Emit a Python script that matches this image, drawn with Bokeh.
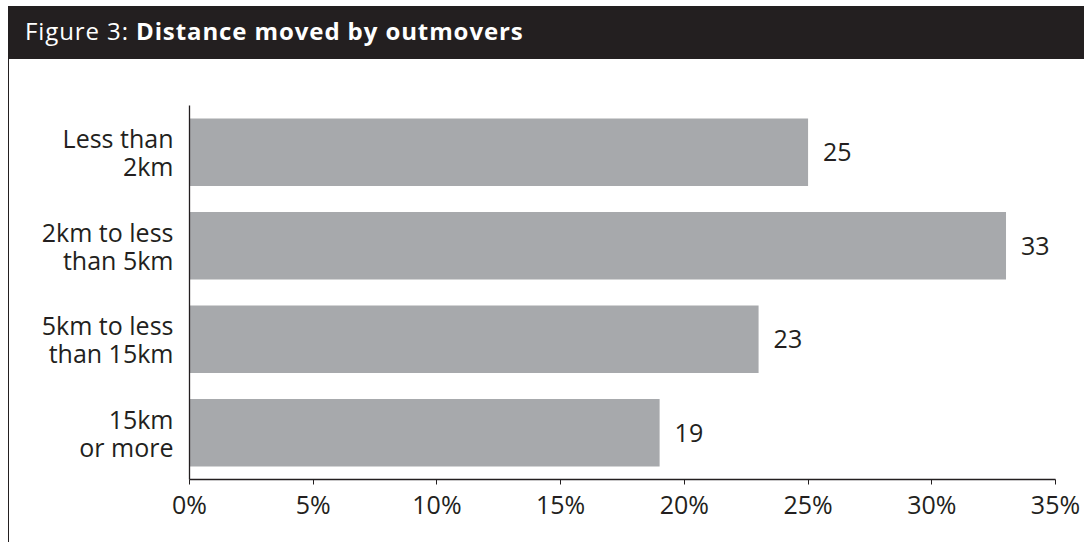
from bokeh.plotting import figure
from bokeh.models import ColumnDataSource, Div, FixedTicker, Range1d, Spacer
from bokeh.layouts import column, row
from bokeh.embed import file_html
from bokeh.resources import INLINE
from bokeh.core.properties import value

# ---- data ----
categories = ["Less than\n2km", "2km to less\nthan 5km", "5km to less\nthan 15km", "15km\nor more"]
values = [25, 33, 23, 19]
value_labels = ["25", "33", "23", "19"]
x_ticks = [0, 5, 10, 15, 20, 25, 30, 35]
x_tick_labels = ["0%", "5%", "10%", "15%", "20%", "25%", "30%", "35%"]
title_prefix = "Figure 3: "
title_main = "Distance moved by outmovers"

DARK = "#231f20"
BAR = "#a7a9ac"
FONT = "Open Sans"

src = ColumnDataSource(dict(cat=categories, val=values, lab=value_labels))

p = figure(
    width=1075, height=483,
    y_range=list(reversed(categories)),
    x_range=Range1d(0, 35),
    output_backend="svg", toolbar_location=None,
    min_border_left=180, min_border_right=29,
    min_border_top=46, min_border_bottom=63,
    background_fill_color="white", border_fill_color="white",
)
p.outline_line_color = None
p.xgrid.visible = False
p.ygrid.visible = False

p.hbar(y="cat", left=0, right="val", height=0.72, source=src,
       fill_color=BAR, line_color=None)
p.text(x="val", y="cat", text="lab", source=src, x_offset=15,
       text_baseline="middle", text_align="left",
       text_font=value(FONT), text_font_size="25px", text_color=DARK)

xa = p.xaxis[0]
xa.ticker = FixedTicker(ticks=x_ticks)
xa.major_label_overrides = {t: l for t, l in zip(x_ticks, x_tick_labels)}
xa.axis_line_color = DARK
xa.axis_line_width = 1.3
xa.major_tick_line_color = DARK
xa.major_tick_in = 0
xa.major_tick_out = 5
xa.minor_tick_line_color = None
xa.major_label_standoff = 2
xa.major_label_text_font = FONT
xa.major_label_text_font_size = "25px"
xa.major_label_text_color = DARK

ya = p.yaxis[0]
ya.axis_line_color = DARK
ya.axis_line_width = 1.3
ya.major_tick_line_color = None
ya.major_tick_in = 0
ya.major_tick_out = 0
ya.minor_tick_line_color = None
ya.major_label_standoff = 16
ya.major_label_text_font = FONT
ya.major_label_text_font_size = "25px"
ya.major_label_text_color = DARK
ya.major_label_text_align = "right"
ya.major_label_text_line_height = 0.82

header = Div(
    text=(f'<div style="color:#ffffff;font-family:\'{FONT}\';font-size:24px;'
          f'letter-spacing:0.9px;padding-left:17px;line-height:49px;white-space:nowrap;">'
          f'{title_prefix}<b>{title_main}</b></div>'),
    width=1076, height=53,
    styles={"background-color": DARK, "margin": "0", "padding": "0"},
)
border = Div(text="", width=1, height=483,
             styles={"background-color": DARK, "margin": "0", "padding": "0"})

layout = column(
    Spacer(width=1084, height=6),
    row(Spacer(width=8, height=536), column(header, row(border, p, spacing=0), spacing=0), spacing=0),
    spacing=0,
)

open("out.html", "w").write(file_html(layout, INLINE))
